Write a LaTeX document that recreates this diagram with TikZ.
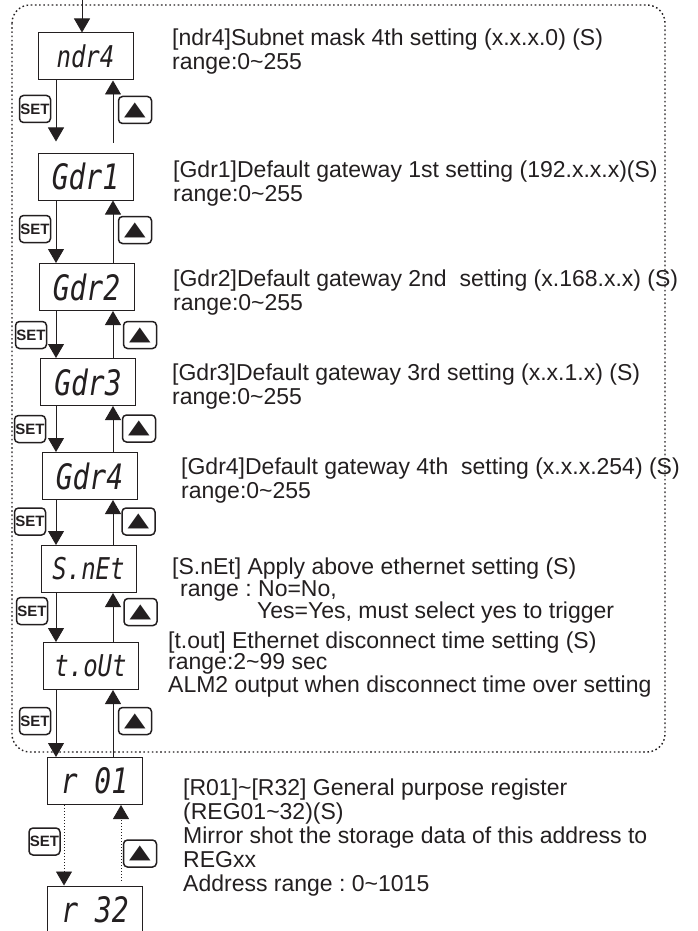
\documentclass[tikz,border=0pt]{standalone}
\usepackage{fontspec}
\setmainfont{Liberation Sans}
\newfontfamily\segfont[FakeStretch=0.8]{DejaVu Sans Mono}
\newfontfamily\symfont{DejaVu Sans}
\usetikzlibrary{
  arrows.meta,
  positioning,
  calc
}
\definecolor{ink}{HTML}{231F20}
\newcommand{\tld}{\textasciitilde}
\newcommand{\uptri}{{\symfont\fontsize{28}{28}\selectfont\scalebox{1}[0.7]{▲}}}

\begin{document}
\begin{tikzpicture}[
  x=1pt, y=-1pt,
  disp/.style={draw=ink, line width=1pt, minimum width=95pt, minimum height=47pt,
               inner sep=0pt, text=ink, font=\segfont\itshape\fontsize{35}{35}\selectfont},
  setkey/.style={draw=ink, line width=1.5pt, rounded corners=4pt, minimum width=31pt,
                 minimum height=27pt, inner sep=0pt, text=ink,
                 font=\bfseries\fontsize{15}{15}\selectfont},
  upkey/.style={draw=ink, line width=1.5pt, rounded corners=4pt, minimum width=33pt,
                minimum height=27pt, inner sep=0pt, text=ink},
  arrow/.style={-{Triangle[width=16pt,length=14pt]}, line width=0.9pt, draw=ink},
  dotarrow/.style={arrow, dash pattern=on 1pt off 2pt},
  frame/.style={draw=ink, line width=1.4pt, dash pattern=on 1.6pt off 2.6pt, rounded corners=18pt},
  desc/.style={anchor=base west, align=left, inner sep=0pt, text=ink,
               font=\frenchspacing\fontsize{23}{24}\selectfont}
]
  \useasboundingbox (0,0) rectangle (698,931);

  % Ethernet group
  \draw[frame] (12,5) rectangle (665,752);

  % Displays
  \node[disp, font=\segfont\itshape\fontsize{30}{30}\selectfont] (ndr4) at (85.5,56.5) {ndr4};
  \node[disp] (gdr1) at (85.5,176.5) {Gdr1};
  \node[disp] (gdr2) at (86.5,287) {Gdr2};
  \node[disp] (gdr3) at (88,382) {Gdr3};
  \node[disp] (gdr4) at (89.5,476) {Gdr4};
  \node[disp, font=\segfont\itshape\fontsize{30}{30}\selectfont] (snet) at (88.5,569) {S.nEt};
  \node[disp, font=\segfont\itshape\fontsize{30}{30}\selectfont] (tout) at (90.5,666) {t.oUt};
  \node[disp] (r01) at (94.5,781) {r 01};
  \node[disp] (r32) at (95,909.5) {r 32};

  % Keys
  \node[setkey] (set1) at (35,109) {SET};
  \node[setkey] (set2) at (35,229) {SET};
  \node[setkey] (set3) at (31,335) {SET};
  \node[setkey] (set4) at (30,429) {SET};
  \node[setkey] (set5) at (30,521.5) {SET};
  \node[setkey] (set6) at (32,611) {SET};
  \node[setkey] (set7) at (35,721) {SET};
  \node[setkey] (set8) at (44.5,841.5) {SET};

  \node[upkey] (up1) at (135,110) {\uptri};
  \node[upkey] (up2) at (135,230) {\uptri};
  \node[upkey] (up3) at (140,335) {\uptri};
  \node[upkey] (up4) at (139,428.5) {\uptri};
  \node[upkey] (up5) at (138.5,521.5) {\uptri};
  \node[upkey] (up6) at (140.5,612) {\uptri};
  \node[upkey] (up7) at (135,721) {\uptri};
  \node[upkey] (up8) at (140,853.5) {\uptri};

  % Arrows
  \coordinate (entry) at (82,0);
  \coordinate (dn) at (56,0);
  \coordinate (rise) at (113,0);
  \coordinate (dnr) at (64,0);
  \coordinate (riser) at (121,0);

  \draw[arrow] (entry) -- (entry |- ndr4.north);
  \draw[arrow, shorten >=11pt] (ndr4.south -| dn) -- (gdr1.north -| dn);
  \draw[arrow, shorten <=10pt] (gdr1.north -| rise) -- (ndr4.south -| rise);
  \draw[arrow] (gdr1.south -| dn) -- (gdr2.north -| dn);
  \draw[arrow] (gdr2.north -| rise) -- (gdr1.south -| rise);
  \draw[arrow] (gdr2.south -| dn) -- (gdr3.north -| dn);
  \draw[arrow] (gdr3.north -| rise) -- (gdr2.south -| rise);
  \draw[arrow] (gdr3.south -| dn) -- (gdr4.north -| dn);
  \draw[arrow] (gdr4.north -| rise) -- (gdr3.south -| rise);
  \draw[arrow] (gdr4.south -| dn) -- (snet.north -| dn);
  \draw[arrow] (snet.north -| rise) -- (gdr4.south -| rise);
  \draw[arrow] (snet.south -| dn) -- (tout.north -| dn);
  \draw[arrow] (tout.north -| rise) -- (snet.south -| rise);
  \draw[arrow] (tout.south -| dn) -- (r01.north -| dn);
  \draw[arrow] (r01.north -| rise) -- (tout.south -| rise);
  \draw[dotarrow] (r01.south -| dnr) -- (r32.north -| dnr);
  \draw[dotarrow, shorten <=5pt] (r32.north -| riser) -- (r01.south -| riser);

  % Descriptions (placed at the baseline of their last line)
  \node[desc] (tndr4) at (172,70) {[ndr4]Subnet mask 4th setting (x.x.x.0) (S)\\range:0\tld255};
  \node[desc] (tgdr1) at (173,201) {[Gdr1]Default gateway 1st setting (192.x.x.x)(S)\\range:0\tld255};
  \node[desc] (tgdr2) at (173,310) {[Gdr2]Default gateway 2nd\ \ setting (x.168.x.x) (S)\\range:0\tld255};
  \node[desc] (tgdr3) at (172,404) {[Gdr3]Default gateway 3rd setting (x.x.1.x) (S)\\range:0\tld255};
  \node[desc] (tgdr4) at (181,498) {[Gdr4]Default gateway 4th\ \ setting (x.x.x.254) (S)\\range:0\tld255};
  \node[desc, font=\frenchspacing\fontsize{23}{22}\selectfont] (tsnet) at (172,618)
    {[S.nEt] Apply above ethernet setting (S)\\\hspace*{8pt}range : No=No,\\\hspace*{85pt}Yes=Yes, must select yes to trigger};
  \node[desc, font=\frenchspacing\fontsize{23}{21}\selectfont] (ttout) at (168,692)
    {[t.out] Ethernet disconnect time setting (S)\\range:2\tld99 sec\\ALM2 output when disconnect time over setting};
  \node[desc] (treg) at (183,891)
    {[R01]\tld[R32] General purpose register\\(REG01\tld32)(S)\\Mirror shot the storage data of this address to\\REGxx\\Address range : 0\tld1015};
\end{tikzpicture}
\end{document}
